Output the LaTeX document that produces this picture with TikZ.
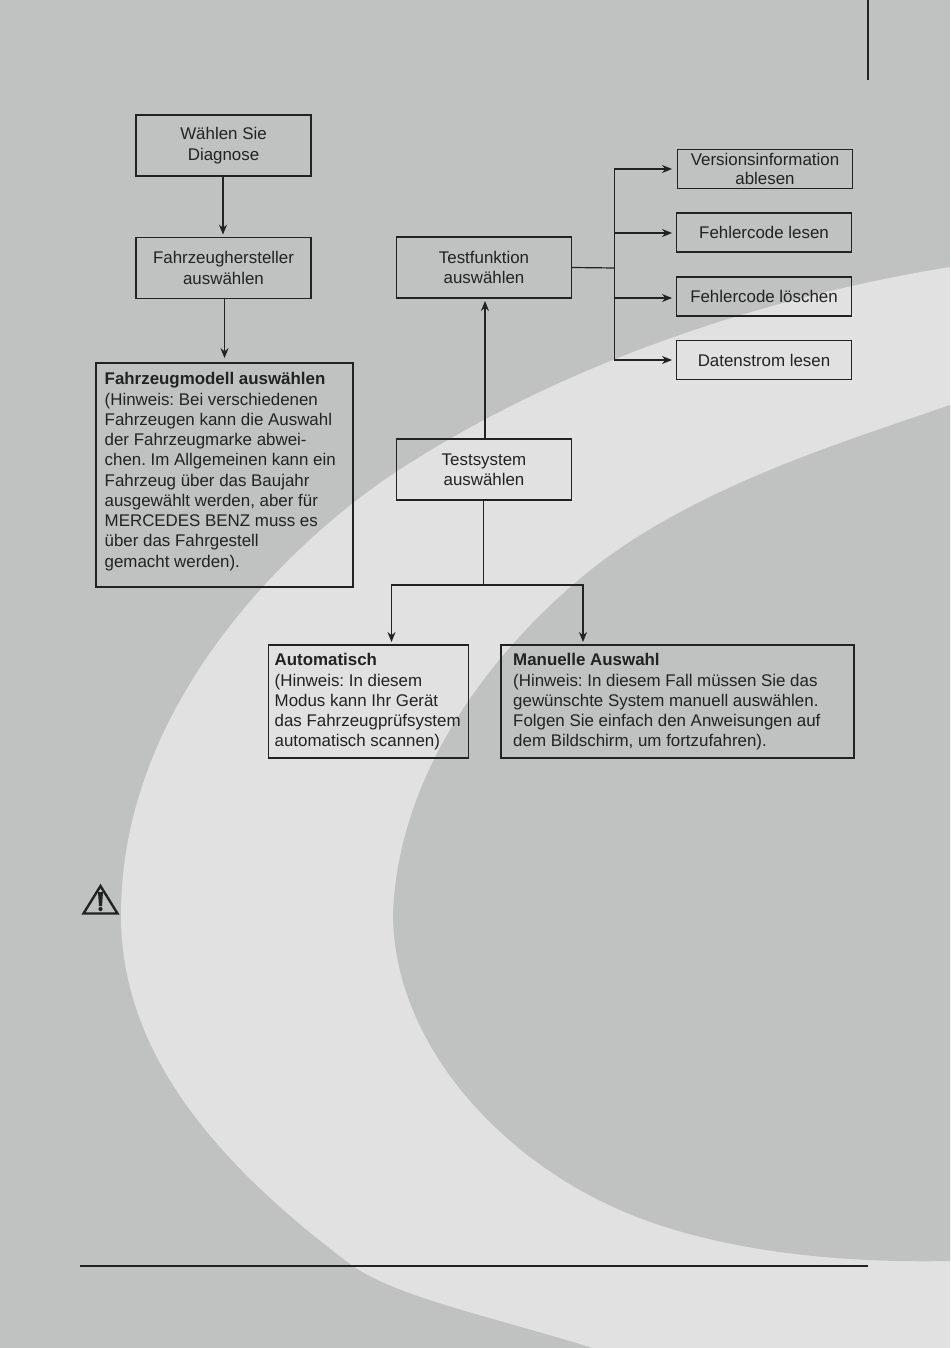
\documentclass[tikz,border=0pt]{standalone}
\usepackage{fontspec}
\setmainfont{Liberation Sans}
\usetikzlibrary{arrows.meta}
\definecolor{bggray}{HTML}{C0C2C1}
\definecolor{bandlight}{HTML}{E0E1E0}
\definecolor{inkc}{HTML}{222222}
\tikzset{
  box/.style={draw=inkc,line width=1.2pt,inner sep=0pt,text=inkc,align=center,font=\frenchspacing\fontsize{16.9}{20.4}\selectfont},
  notebox/.style={draw=inkc,line width=1.2pt,inner sep=0pt,text=inkc},
  notetext/.style={anchor=north west,inner sep=0pt,text=inkc,align=left,font=\frenchspacing\fontsize{16.9}{20.25}\selectfont},
  conn/.style={draw=inkc,line width=1.2pt},
  arr/.style={conn,-{Stealth[length=10pt,width=8pt]}},
}
\begin{document}
\begin{tikzpicture}[x=1pt,y=-1pt]
\useasboundingbox (0,0) rectangle (950,1348);
\fill[bggray] (0,0) rectangle (950,1348);
% light band
\fill[bandlight] (950,267) .. controls (753,299) and (556,367.5) .. (396,472)
  .. controls (304,532.5) and (121,695) .. (121,915)
  .. controls (121,1045) and (205,1155) .. (349,1263)
  .. controls (392,1296) and (490,1316) .. (593,1348) -- (950,1348) -- cycle;
\fill[bggray] (950,405) .. controls (850,440) and (690,487) .. (582,577)
  .. controls (528,622) and (400,745) .. (393,913)
  .. controls (393,1043) and (500,1158) .. (620,1210)
  .. controls (721,1254) and (850,1263) .. (950,1261) -- cycle;
% rules
\draw[inkc,line width=2pt] (868,0) -- (868,80);
\draw[inkc,line width=2pt] (80,1265.5) -- (868,1265.5);
% boxes
\node[box,minimum width=175pt,minimum height=61pt] (a) at (223.5,145.5) {\raisebox{-0.7pt}{Wählen Sie}\\\raisebox{-0.7pt}{Diagnose}};
\node[box,minimum width=175pt,minimum height=61pt] (b) at (223.5,268) {Fahrzeughersteller\\auswählen};
\node[notebox,minimum width=257pt,minimum height=224pt] (c) at (224.5,475) {};
\node[notetext] (ct) at (104.5,372.5) {\textbf{Fahrzeugmodell auswählen}\\(Hinweis: Bei verschiedenen\\Fahrzeugen kann die Auswahl\\der Fahrzeugmarke abwei-\\chen. Im Allgemeinen kann ein\\Fahrzeug über das Baujahr\\ausgewählt werden, aber für\\MERCEDES BENZ muss es\\über das Fahrgestell\\gemacht werden).};
\node[box,minimum width=175pt,minimum height=61pt] (d) at (484,267.5) {Testfunktion\\auswählen};
\node[box,minimum width=175pt,minimum height=61pt] (e) at (484,469.5) {Testsystem\\auswählen};
\node[box,minimum width=175pt,minimum height=39pt,font=\fontsize{16.9}{18.5}\selectfont] (f1) at (765,169) {Versionsinformation\\ablesen};
\node[box,minimum width=175pt,minimum height=39pt] (f2) at (764,232.5) {Fehlercode lesen};
\node[box,minimum width=175pt,minimum height=39pt] (f3) at (764,296.5) {Fehlercode löschen};
\node[box,minimum width=175pt,minimum height=39pt] (f4) at (764,360) {Datenstrom lesen};
\node[notebox,minimum width=200pt,minimum height=113pt] (g) at (368.5,701.5) {};
\node[notetext] (gt) at (274.5,653.5) {\textbf{Automatisch}\\(Hinweis: In diesem\\Modus kann Ihr Gerät\\das Fahrzeugprüfsystem\\automatisch scannen)};
\node[notebox,minimum width=353pt,minimum height=113pt] (h) at (677.5,701.5) {};
\node[notetext] (ht) at (513,653.5) {\textbf{Manuelle Auswahl}\\(Hinweis: In diesem Fall müssen Sie das\\gewünschte System manuell auswählen.\\Folgen Sie einfach den Anweisungen auf\\dem Bildschirm, um fortzufahren).};
% connectors
\draw[arr] (a.south) ++(-0.5,0) -- ++(0,58);
\draw[arr] (b.south) ++(1,0) -- ++(0,59);
\draw[arr] (e.north) ++(1,0) -- (485,301);
\coordinate (j) at (614.5,268);
\draw[conn] (d.east) -- (j);
\coordinate (jt) at (614.5,169);
\coordinate (jb) at (614.5,360);
\draw[conn,line cap=rect] (jt) -- (jb);
\draw[arr] (jt) -- (672,169);
\draw[arr] (614.5,233) -- (672,233);
\draw[arr] (614.5,298) -- (672,298);
\draw[arr] (jb) -- (672,360);
\coordinate (k) at (483.5,585);
\draw[conn] (e.south) ++(-0.5,0) -- (k);
\coordinate (kl) at (391.5,585);
\coordinate (kr) at (583,585);
\draw[conn,line cap=rect] (kl) -- (kr);
\draw[arr] (kl) -- (391.5,642);
\draw[arr] (kr) -- (583,642);
% warning icon
\draw[inkc,line width=2.4pt,line join=miter] (100.5,886) -- (117.5,913.5) -- (83.5,913.5) -- cycle;
\fill[inkc] (98,892) -- (103,892) -- (102,906) -- (99,906) -- cycle;
\fill[inkc] (100.5,909) circle (2.1pt);
\end{tikzpicture}
\end{document}
